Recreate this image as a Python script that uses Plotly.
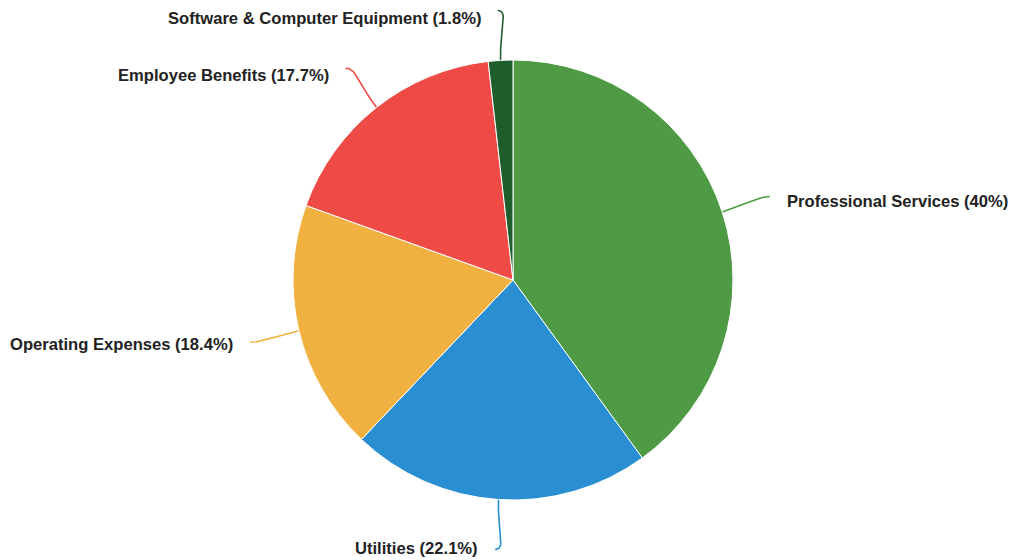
import numpy as np
import plotly.graph_objects as go

# Expense categories and their shares (percent of total)
categories = [
    "Professional Services",
    "Utilities",
    "Operating Expenses",
    "Employee Benefits",
    "Software & Computer Equipment",
]
shares = [40, 22.1, 18.4, 17.7, 1.8]
slice_colors = ["#4f9b45", "#2a8fd2", "#f1b140", "#ee4b46", "#1d5e2c"]

W, H = 1012, 560
CX, CY, R = 513, 280, 220          # pie centre and radius in pixels
LABEL_R = 270                      # radius where connectors end
TEXT_GAP = 15

fig = go.Figure()

fig.add_trace(go.Pie(
    labels=categories,
    values=shares,
    sort=False,
    direction="clockwise",
    rotation=0,
    marker=dict(colors=slice_colors, line=dict(color="white", width=1)),
    textinfo="none",
    hoverinfo="label+percent",
    showlegend=False,
    domain=dict(x=[(CX - R) / W, (CX + R) / W],
                y=[(H - CY - R) / H, (H - CY + R) / H]),
))

# Connector lines and labels, placed from each slice's mid-angle
vals = np.array(shares, dtype=float)
frac = vals / vals.sum()
mid = np.cumsum(frac) - frac / 2
annotations = []
for name, v, f, col in zip(categories, shares, mid, slice_colors):
    th = 2 * np.pi * f
    sx, sy = np.sin(th), -np.cos(th)
    p0 = np.array([CX + R * sx, CY + R * sy])
    p1 = np.array([CX + (R + 25) * sx, CY + (R + 25) * sy])
    p3 = np.array([CX + LABEL_R * sx, CY + LABEL_R * sy])
    side = 1 if p3[0] >= CX else -1
    p2 = p3 + np.array([-side * 12, 0])
    t = np.linspace(0, 1, 40)[:, None]
    curve = ((1 - t) ** 3) * p0 + 3 * ((1 - t) ** 2) * t * p1 \
        + 3 * (1 - t) * (t ** 2) * p2 + (t ** 3) * p3
    fig.add_trace(go.Scatter(
        x=curve[:, 0], y=curve[:, 1], mode="lines",
        line=dict(color=col, width=1.6), hoverinfo="skip", showlegend=False,
        xaxis="x", yaxis="y",
    ))
    annotations.append(dict(
        x=p3[0] + side * TEXT_GAP, y=p3[1] + 3.5 - 4.5 * sy,
        xref="x", yref="y",
        text=f"{name} ({v:g}%)", showarrow=False,
        xanchor="left" if side > 0 else "right", yanchor="middle",
        font=dict(family="Liberation Sans, Arial, sans-serif", size=16.6,
                  color="#222222", weight="bold"),
    ))

fig.update_layout(
    width=W, height=H,
    margin=dict(l=0, r=0, t=0, b=0),
    paper_bgcolor="white", plot_bgcolor="rgba(0,0,0,0)",
    xaxis=dict(range=[0, W], visible=False, domain=[0, 1], fixedrange=True),
    yaxis=dict(range=[H, 0], visible=False, domain=[0, 1], fixedrange=True),
    annotations=annotations,
)

fig.write_html("out.html")
